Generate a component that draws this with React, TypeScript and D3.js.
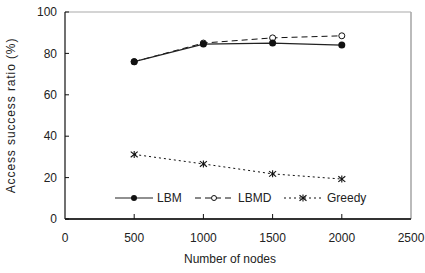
import * as d3 from "d3";

const nodes = [500, 1000, 1500, 2000];
const lbm = [76, 84.5, 85, 84];
const lbmd = [76, 85, 87.5, 88.5];
const greedy = [31.2, 26.6, 21.8, 19.3];
const xTicks = [0, 500, 1000, 1500, 2000, 2500];
const yTicks = [0, 20, 40, 60, 80, 100];

const width = 425;
const height = 273;
const marginLeft = 65;
const marginRight = 14;
const marginTop = 12;
const marginBottom = 54;

// Excel style star marker: an X with a vertical bar through it
function Star({ cx, cy }: { cx: number; cy: number }) {
  const r = 3.5;
  return (
    <g stroke="#111" strokeWidth={1.1}>
      <line x1={cx} y1={cy - r} x2={cx} y2={cy + r} />
      <line x1={cx - r} y1={cy - r * 0.8} x2={cx + r} y2={cy + r * 0.8} />
      <line x1={cx - r} y1={cy + r * 0.8} x2={cx + r} y2={cy - r * 0.8} />
    </g>
  );
}

export default function App() {
  const x = d3.scaleLinear([0, 2500], [marginLeft, width - marginRight]);
  const y = d3.scaleLinear([0, 100], [height - marginBottom, marginTop]);
  const line = d3
    .line<number>()
    .x((_, i) => x(nodes[i]))
    .y((d) => y(d));

  const font = "Liberation Sans, Arial, sans-serif";
  const legendY = 198;

  return (
    <svg
      width={width}
      height={height}
      style={{ position: "absolute", left: 0, top: 0, background: "#fff" }}
      fontFamily={font}
    >
      {/* frame */}
      <line x1={x(0)} x2={x(2500)} y1={y(100)} y2={y(100)} stroke="#aaa" strokeWidth={1.2} />
      <line x1={x(2500)} x2={x(2500)} y1={y(100)} y2={y(0)} stroke="#aaa" strokeWidth={1.6} />
      <line x1={x(0)} x2={x(0)} y1={y(100)} y2={y(0)} stroke="#111" strokeWidth={1.2} />
      <line x1={x(0)} x2={x(2500)} y1={y(0)} y2={y(0)} stroke="#333" strokeWidth={1.8} />

      {/* y ticks */}
      {yTicks.map((t) => (
        <g key={t}>
          <line x1={x(0)} x2={x(0) + 4} y1={y(t)} y2={y(t)} stroke="#111" />
          <text x={x(0) - 8} y={y(t)} dy="0.35em" textAnchor="end" fontSize={12} fill="#222">
            {t}
          </text>
        </g>
      ))}

      {/* x ticks */}
      {xTicks.map((t) => (
        <g key={t}>
          {t > 0 && t < 2500 && (
            <line x1={x(t)} x2={x(t)} y1={y(0)} y2={y(0) - 5} stroke="#111" />
          )}
          <text x={x(t)} y={y(0) + 23} textAnchor="middle" fontSize={12} fill="#222">
            {t}
          </text>
        </g>
      ))}

      <text x={(x(0) + x(2500)) / 2 - 8} y={263} textAnchor="middle" fontSize={12} fill="#222">
        Number of nodes
      </text>
      <text
        transform={`translate(15,${(y(0) + y(100)) / 2}) rotate(-90)`}
        textAnchor="middle"
        fontSize={12}
        fill="#222"
        letterSpacing={0.9}
      >
        Access success ratio (%)
      </text>

      {/* series */}
      <path d={line(greedy) ?? ""} fill="none" stroke="#111" strokeWidth={1} strokeDasharray="2,3" />
      <path d={line(lbmd) ?? ""} fill="none" stroke="#111" strokeWidth={1} strokeDasharray="6,4" />
      <path d={line(lbm) ?? ""} fill="none" stroke="#222" strokeWidth={1.2} />
      {lbmd.map((v, i) => (
        <circle key={i} cx={x(nodes[i])} cy={y(v)} r={3} fill="#fff" stroke="#111" strokeWidth={1} />
      ))}
      {lbm.map((v, i) => (
        <circle key={i} cx={x(nodes[i])} cy={y(v)} r={3.5} fill="#111" />
      ))}
      {greedy.map((v, i) => (
        <Star key={i} cx={x(nodes[i])} cy={y(v)} />
      ))}

      {/* legend */}
      <line x1={115} x2={153} y1={legendY} y2={legendY} stroke="#222" strokeWidth={1.2} />
      <circle cx={134} cy={legendY} r={3} fill="#111" />
      <text x={157} y={legendY} dy="0.35em" fontSize={12} fill="#222">LBM</text>

      <line x1={195} x2={235} y1={legendY} y2={legendY} stroke="#111" strokeDasharray="6,4" />
      <circle cx={214} cy={legendY} r={2.5} fill="#fff" stroke="#111" />
      <text x={238} y={legendY} dy="0.35em" fontSize={12} fill="#222">LBMD</text>

      <line x1={284} x2={323} y1={legendY} y2={legendY} stroke="#111" strokeDasharray="2,3" />
      <Star cx={303} cy={legendY} />
      <text x={327} y={legendY} dy="0.35em" fontSize={12} fill="#222">Greedy</text>
    </svg>
  );
}
